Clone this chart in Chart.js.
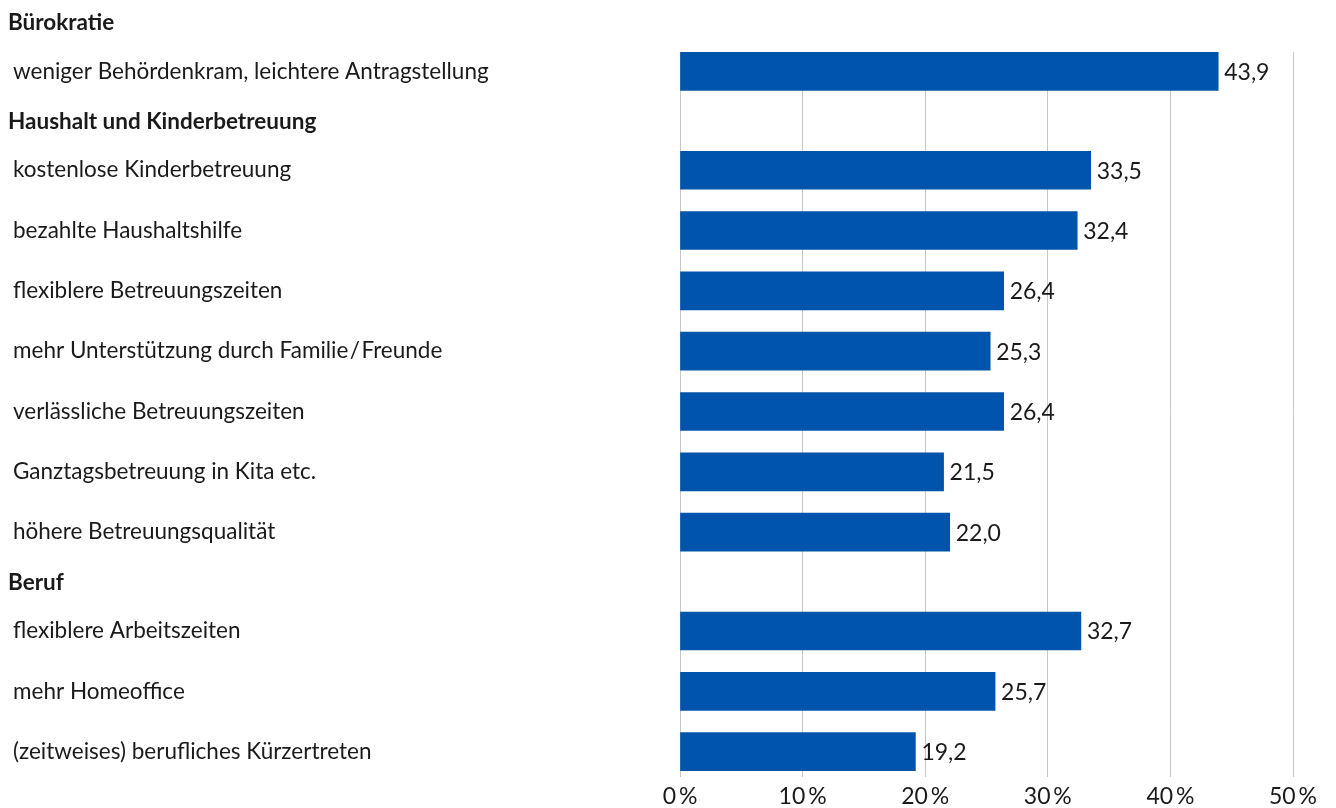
<!DOCTYPE html>
<html lang="de">
<head>
<meta charset="utf-8">
<title>Unterstützungswünsche</title>
<script src="https://cdn.jsdelivr.net/npm/chart.js@4/dist/chart.umd.min.js"></script>
<style>
  html, body { margin: 0; padding: 0; background: #fff; }
  #wrap { width: 1336px; height: 808px; position: relative; }
</style>
</head>
<body>
<div id="wrap"><canvas id="chart"></canvas></div>
<script>
// group headings and the items below them
const groupNames = ['Bürokratie', 'Haushalt und Kinderbetreuung', 'Beruf'];
const itemLabels = [
  'weniger Behördenkram, leichtere Antragstellung',
  'kostenlose Kinderbetreuung',
  'bezahlte Haushaltshilfe',
  'flexiblere Betreuungszeiten',
  'mehr Unterstützung durch Familie\u200A/\u200AFreunde',
  'verlässliche Betreuungszeiten',
  'Ganztagsbetreuung in Kita etc.',
  'höhere Betreuungsqualität',
  'flexiblere Arbeitszeiten',
  'mehr Homeoffice',
  '(zeitweises) berufliches Kürzertreten'
];
const itemGroup = [0, 1, 1, 1, 1, 1, 1, 1, 2, 2, 2];
const values = [43.9, 33.5, 32.4, 26.4, 25.3, 26.4, 21.5, 22.0, 32.7, 25.7, 19.2];
const xTicks = [0, 10, 20, 30, 40, 50];

const FONT = 'Lato, "Open Sans", sans-serif';
const TEXT = '#1a1a1a';
const BLUE = '#0154ab';

// row positions: one unit per item, a heading gets a shorter row of its own
const HEAD_BEFORE = 0.8, HEAD_AFTER = 0.84;
const rows = [];     // {text, pos, header}
const itemPos = [];
let pos = 0, lastGroup = -1;
itemLabels.forEach((lab, i) => {
  if (itemGroup[i] !== lastGroup) {
    if (lastGroup >= 0) pos += HEAD_AFTER - 1;
    rows.push({ text: groupNames[itemGroup[i]], pos: pos, header: true });
    pos += HEAD_BEFORE;
    lastGroup = itemGroup[i];
  }
  rows.push({ text: lab, pos: pos, header: false });
  itemPos.push(pos);
  pos += 1;
});

const fmt = v => v.toFixed(1).replace('.', ',');

// category names on the left, drawn at the y scale positions
const rowLabels = {
  id: 'rowLabels',
  afterDraw(chart) {
    const { ctx, scales: { y } } = chart;
    ctx.save();
    ctx.fillStyle = TEXT;
    ctx.textBaseline = 'middle';
    ctx.textAlign = 'left';
    rows.forEach(r => {
      ctx.font = (r.header ? 'bold ' : '') + '22.5px ' + FONT;
      ctx.fillText(r.text, r.header ? 8 : 13, y.getPixelForValue(r.pos));
    });
    ctx.restore();
  }
};

// value next to each bar end
const barValues = {
  id: 'barValues',
  afterDatasetsDraw(chart) {
    const { ctx } = chart;
    ctx.save();
    ctx.fillStyle = TEXT;
    ctx.font = '23px ' + FONT;
    ctx.textBaseline = 'middle';
    ctx.textAlign = 'left';
    chart.getDatasetMeta(0).data.forEach((bar, i) => {
      ctx.fillText(fmt(values[i]), bar.x + 6, bar.y + 1);
    });
    ctx.restore();
  }
};

new Chart(document.getElementById('chart'), {
  type: 'bar',
  data: {
    datasets: [{
      data: values.map((v, i) => ({ x: v, y: itemPos[i] })),
      backgroundColor: BLUE,
      borderWidth: 0,
      barThickness: 38
    }]
  },
  options: {
    indexAxis: 'y',
    responsive: true,
    maintainAspectRatio: false,
    animation: false,
    layout: { padding: { top: 52, right: 43, left: 0, bottom: 0 } },
    plugins: { legend: { display: false }, tooltip: { enabled: false } },
    scales: {
      x: {
        type: 'linear',
        min: 0, max: 50,
        afterBuildTicks: s => { s.ticks = xTicks.map(v => ({ value: v })); },
        afterFit: s => { s.height = 31; },
        grid: { color: '#c8c8c8', lineWidth: 1, drawTicks: false },
        border: { display: false },
        ticks: {
          padding: 6,
          color: TEXT,
          font: { family: FONT, size: 23 },
          callback: v => v + '\u2009%'
        }
      },
      y: {
        type: 'linear',
        reverse: true,
        offset: false,
        min: itemPos[0] - 0.32,
        max: itemPos[itemPos.length - 1] + 0.42,
        afterFit: s => { s.width = 680; },
        grid: { display: false, offset: false },
        border: { display: false },
        ticks: { display: false }
      }
    }
  },
  plugins: [rowLabels, barValues]
});
</script>
</body>
</html>
